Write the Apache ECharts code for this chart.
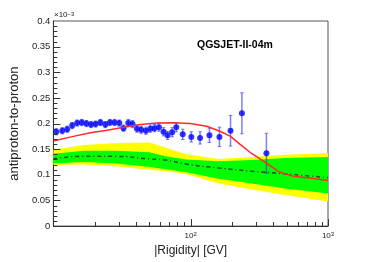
<!DOCTYPE html>
<html><head><meta charset="utf-8">
<script src="https://cdn.jsdelivr.net/npm/echarts@6/dist/echarts.min.js"></script>
<style>html,body{margin:0;padding:0;background:#fff}#c{width:382px;height:262px}</style>
</head><body><div id="c"></div>
<script>
// measured antiproton-to-proton ratio (x1e-3)
const rigidity = [10.5,11.6,12.6,13.7,14.9,16.1,17.4,18.8,20.3,22.0,23.9,25.8,27.9,30.2,32.4,35.1,37.7,40.6,43.6,47.2,50.8,54.5,58.7,63.4,67.8,73.3,78.5,87.5,101,117,137,162,195,236,356];
const ratio    = [0.184,0.186,0.189,0.196,0.201,0.202,0.200,0.198,0.199,0.202,0.198,0.202,0.202,0.201,0.191,0.201,0.199,0.190,0.188,0.186,0.190,0.191,0.193,0.184,0.177,0.183,0.193,0.179,0.174,0.172,0.177,0.174,0.186,0.220,0.142];
const ratioErr = [0.006,0.006,0.006,0.006,0.006,0.006,0.006,0.006,0.006,0.006,0.006,0.006,0.006,0.006,0.006,0.007,0.007,0.007,0.007,0.007,0.007,0.007,0.008,0.008,0.008,0.009,0.009,0.010,0.010,0.012,0.014,0.019,0.030,0.040,0.039];
// model curve (red)
const modelR     = [10,14,18.6,24.6,32.5,42.9,56.8,75,99,131,163,194,229,272,320,378,447,559,735,1000];
const modelRatio = [0.166,0.175,0.182,0.187,0.193,0.198,0.201,0.2015,0.200,0.1946,0.185,0.1755,0.1595,0.1435,0.131,0.118,0.105,0.097,0.094,0.089];
// uncertainty bands
const bandR      = [10,16.6,29,50,66,93,159,279,487,1000];
const yellowLo   = [0.119,0.120,0.116,0.110,0.107,0.101,0.083,0.0714,0.0606,0.0478];
const yellowHi   = [0.149,0.158,0.162,0.163,0.153,0.140,0.1307,0.135,0.139,0.142];
const greenLo    = [0.122,0.125,0.122,0.1155,0.111,0.105,0.0925,0.083,0.0733,0.0638];
const greenHi    = [0.141,0.147,0.147,0.144,0.136,0.130,0.1263,0.1288,0.1326,0.135];
const bandCenter = [0.1315,0.136,0.136,0.131,0.1288,0.121,0.1135,0.107,0.102,0.0944];
// axis ticks
const xMajorTicks = [100,1000];
const xMinorTicks = [20,30,40,50,60,70,80,90,200,300,400,500,600,700,800,900];
const yMajorTicks = [0.05,0.1,0.15,0.2,0.25,0.3,0.35];
const yMinorTicks = [];
for (let k=1;k<40;k++){ if (k%5) yMinorTicks.push(k/100); }
const xTickLabels = {100:'10{s|2}', 1000:'10{s|3}'};

const FONT = 'Liberation Sans';
const TICK = '#333';
const chart = echarts.init(document.getElementById('c'), null, {renderer:'canvas'});

function bandSeries(lo, hi, color){
  return {
    type:'custom', silent:true,
    data: bandR.map((r,i)=>[r, lo[i], hi[i]]),
    renderItem(params, api){
      if (params.dataIndex !== 0) return null;
      const up = [], dn = [];
      for (let i=0;i<bandR.length;i++){
        up.push(api.coord([bandR[i], hi[i]]));
        dn.push(api.coord([bandR[i], lo[i]]));
      }
      return {type:'polygon', shape:{points: up.concat(dn.reverse())}, style:{fill:color, stroke:null}};
    }
  };
}
function xTickSeries(vals, len){
  return {type:'custom', silent:true, z:10, data: vals.map(v=>[v,0]),
    renderItem(params, api){
      const p=api.coord([api.value(0),0]);
      const x=Math.round(p[0])+0.5;
      return {type:'line', shape:{x1:x,y1:p[1],x2:x,y2:p[1]-len}, style:{stroke:TICK, lineWidth:1}};
    }};
}
function yTickSeries(vals, len){
  return {type:'custom', silent:true, z:10, data: vals.map(v=>[10,v]),
    renderItem(params, api){
      const p=api.coord([10, api.value(1)]);
      const y=Math.round(p[1])+0.5;
      return {type:'line', shape:{x1:p[0],y1:y,x2:p[0]+len,y2:y}, style:{stroke:TICK, lineWidth:1}};
    }};
}

const option = {
  animation:false,
  grid:{left:53, right:54, top:21, bottom:32, show:true, borderColor:'#555', borderWidth:1, backgroundColor:'transparent'},
  xAxis:{
    type:'log', logBase:10, min:10, max:1000,
    name:'|Rigidity| [GV]', nameLocation:'middle', nameGap:15,
    nameTextStyle:{fontFamily:FONT, fontSize:12, color:'#222'},
    axisLine:{show:true, lineStyle:{color:'#333', width:1}},
    axisTick:{show:false},
    axisLabel:{show:true, margin:5, fontFamily:FONT, fontSize:8, color:'#222',
      formatter:v=>xTickLabels[Math.round(v)]||'',
      rich:{s:{fontFamily:FONT, fontSize:6, color:'#222', verticalAlign:'top', padding:[0,0,4,0]}}},
    splitLine:{show:false}
  },
  yAxis:{
    type:'value', min:0, max:0.4, interval:0.05,
    name:'antiproton-to-proton', nameLocation:'middle', nameGap:23,
    nameTextStyle:{fontFamily:FONT, fontSize:13, color:'#222'},
    axisLine:{show:true, lineStyle:{color:'#333', width:1}},
    axisTick:{show:false},
    axisLabel:{fontFamily:FONT, fontSize:9.5, color:'#222', margin:3},
    splitLine:{show:false}
  },
  graphic:[
    {type:'text', left:54, top:11, style:{text:'×10{e|−3}', fontFamily:FONT, fontSize:8, fill:'#222',
      rich:{e:{fontSize:6, verticalAlign:'top', fill:'#222'}}}},
    {type:'text', left:197, top:40, style:{text:'QGSJET-II-04m', fontFamily:FONT, fontSize:10.5, fontWeight:'bold', fill:'#000'}}
  ],
  series:[
    bandSeries(yellowLo, yellowHi, '#ffff00'),
    bandSeries(greenLo, greenHi, '#00ff00'),
    {type:'line', data:bandR.map((r,i)=>[r,bandCenter[i]]), showSymbol:false, smooth:true, silent:true,
      lineStyle:{color:'#1a4d1a', width:1.5, type:[4,3,1,3]}},
    {type:'line', data:modelR.map((r,i)=>[r,modelRatio[i]]), showSymbol:false, smooth:false, silent:true,
      lineStyle:{color:'#ff2a2a', width:1.5}},
    {type:'custom', silent:true,
      data: rigidity.map((r,i)=>[r, ratio[i], ratioErr[i]]),
      renderItem(params, api){
        const x=api.value(0), y=api.value(1), e=api.value(2);
        const t=api.coord([x,y+e]), b=api.coord([x,y-e]);
        const c='rgba(40,40,255,0.6)', cw=1.8;
        return {type:'group', children:[
          {type:'line', shape:{x1:t[0],y1:t[1],x2:b[0],y2:b[1]}, style:{stroke:c, lineWidth:1.5}},
          {type:'line', shape:{x1:t[0]-cw,y1:t[1],x2:t[0]+cw,y2:t[1]}, style:{stroke:c, lineWidth:1}},
          {type:'line', shape:{x1:b[0]-cw,y1:b[1],x2:b[0]+cw,y2:b[1]}, style:{stroke:c, lineWidth:1}}
        ]};
      }},
    {type:'scatter', data:rigidity.map((r,i)=>[r,ratio[i]]), symbol:'circle', symbolSize:6, silent:true,
      itemStyle:{color:'#0000ff'}},
    xTickSeries(xMajorTicks, 7),
    xTickSeries(xMinorTicks, 4),
    yTickSeries(yMajorTicks, 7),
    yTickSeries(yMinorTicks, 4)
  ]
};
chart.setOption(option);
</script></body></html>
